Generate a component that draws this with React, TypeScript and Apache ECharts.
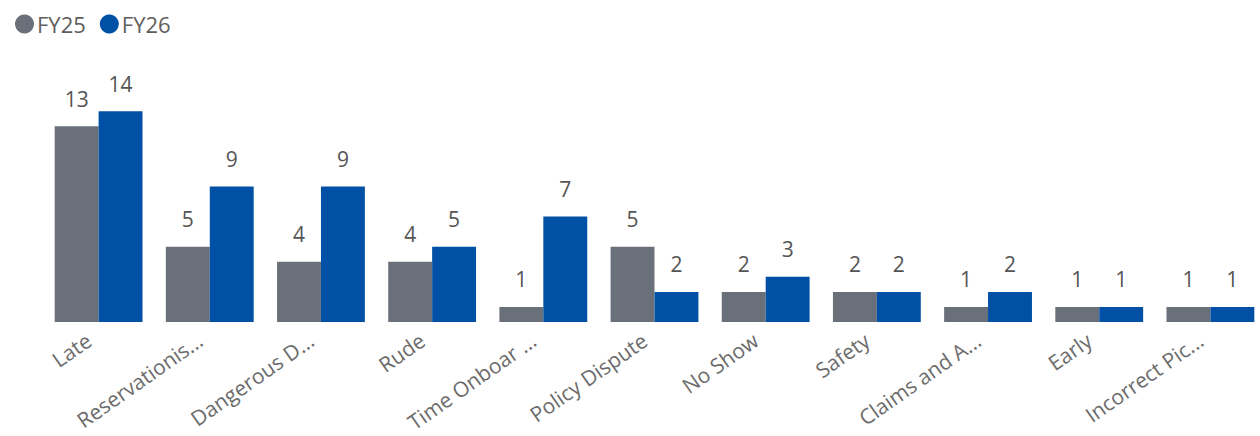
import React, { useEffect, useRef } from "react";
import * as echarts from "echarts";

const categories = [
  "Late",
  "Reservationis...",
  "Dangerous D...",
  "Rude",
  "Time Onboar ...",
  "Policy Dispute",
  "No Show",
  "Safety",
  "Claims and A...",
  "Early",
  "Incorrect Pic...",
];
const fy25 = [13, 5, 4, 4, 1, 5, 2, 2, 1, 1, 1];
const fy26 = [14, 9, 9, 5, 7, 2, 3, 2, 2, 1, 1];

const FONT = "'Segoe UI', 'Open Sans', 'Noto Sans', sans-serif";

export default function App() {
  const ref = useRef<HTMLDivElement>(null);
  useEffect(() => {
    if (!ref.current) return;
    const chart = echarts.init(ref.current, undefined, { renderer: "svg" });
    const labelStyle = {
      show: true,
      position: "top" as const,
      distance: 17,
      color: "#555555",
      fontSize: 21,
      fontFamily: FONT,
    };
    chart.setOption({
      animation: false,
      legend: {
        left: 10,
        top: 8,
        itemWidth: 19,
        itemHeight: 19,
        itemGap: 14,
        icon: "circle",
        textStyle: { color: "#605e5c", fontSize: 22, fontFamily: FONT, padding: [0, 0, 0, -2] },
        data: ["FY25", "FY26"],
      },
      grid: { left: 43, right: 4, top: 81, bottom: 114, containLabel: false },
      xAxis: {
        type: "category",
        data: categories,
        axisLine: { show: false },
        axisTick: { show: false },
        axisLabel: {
          rotate: 35,
          interval: 0,
          margin: 9,
          color: "#6b6b6b",
          fontSize: 21,
          fontFamily: FONT,
          formatter: (v: string) => `{t|${v}}{s|}`,
          rich: {
            t: { color: "#6b6b6b", fontSize: 21, fontFamily: FONT },
            s: { width: 12 },
          },
        },
      },
      yAxis: {
        type: "value",
        min: 0,
        max: 16,
        show: false,
        splitLine: { show: false },
      },
      series: [
        {
          name: "FY25",
          type: "bar",
          data: fy25,
          barGap: "0%",
          barCategoryGap: "21%",
          itemStyle: { color: "#6a707a" },
          label: labelStyle,
        },
        {
          name: "FY26",
          type: "bar",
          data: fy26,
          barGap: "0%",
          barCategoryGap: "21%",
          itemStyle: { color: "#0051a5" },
          label: labelStyle,
        },
      ],
    });
    return () => chart.dispose();
  }, []);
  return (
    <div
      style={{
        position: "fixed",
        left: 0,
        top: 0,
        width: 1260,
        height: 436,
        overflow: "hidden",
        background: "#ffffff",
      }}
    >
      <div ref={ref} style={{ width: 1270, height: 436 }} />
    </div>
  );
}
